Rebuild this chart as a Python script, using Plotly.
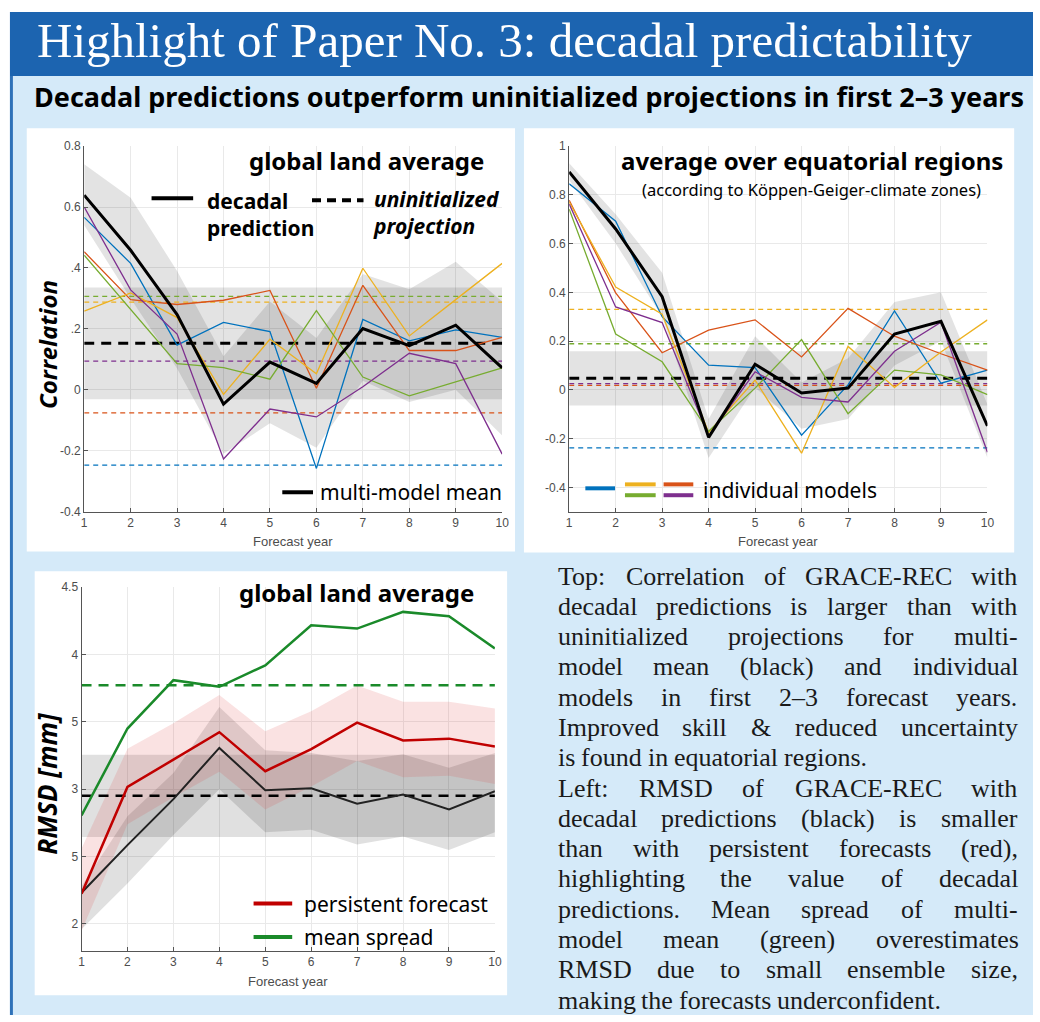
import plotly.graph_objects as go

# ---------------- data ----------------
years = list(range(1, 11))

# Panel 1: correlation, global land average
glob_mmm = [0.639, 0.458, 0.247, -0.047, 0.091, 0.021, 0.201, 0.145, 0.212, 0.072]
glob_mmm_hi = [0.74, 0.63, 0.39, 0.11, 0.29, 0.17, 0.38, 0.33, 0.42, 0.29]
glob_mmm_lo = [0.54, 0.30, 0.07, -0.21, -0.11, -0.19, 0.03, -0.04, 0.00, -0.15]
glob_blue = [0.566, 0.415, 0.147, 0.221, 0.191, -0.258, 0.231, 0.161, 0.197, 0.172]
glob_orange = [0.453, 0.296, 0.280, 0.294, 0.326, 0.005, 0.343, 0.129, 0.129, 0.172]
glob_yellow = [0.258, 0.318, 0.237, -0.015, 0.166, 0.053, 0.399, 0.177, 0.296, 0.415]
glob_green = [0.442, 0.264, 0.086, 0.073, 0.035, 0.260, 0.042, -0.020, 0.026, 0.072]
glob_purple = [0.600, 0.328, 0.183, -0.227, -0.063, -0.089, 0.010, 0.120, 0.086, -0.211]
glob_uninit_mmm = 0.153
glob_uninit_models = [-0.247, -0.076, 0.288, 0.307, 0.094]  # blue, orange, yellow, green, purple
glob_uninit_band = [-0.031, 0.336]

# Panel 2: correlation, equatorial regions
eq_mmm = [0.894, 0.660, 0.382, -0.195, 0.105, -0.013, 0.007, 0.229, 0.281, -0.148]
eq_mmm_hi = [0.93, 0.72, 0.48, -0.12, 0.22, 0.03, 0.13, 0.36, 0.40, -0.06]
eq_mmm_lo = [0.86, 0.60, 0.30, -0.28, 0.01, -0.16, -0.12, 0.10, 0.20, -0.28]
eq_blue = [0.845, 0.692, 0.300, 0.101, 0.091, -0.186, 0.020, 0.324, 0.027, 0.081]
eq_orange = [0.778, 0.398, 0.152, 0.245, 0.287, 0.135, 0.334, 0.220, 0.148, 0.081]
eq_yellow = [0.770, 0.422, 0.310, -0.175, 0.040, -0.260, 0.178, 0.010, 0.155, 0.287]
eq_green = [0.741, 0.229, 0.115, -0.170, 0.007, 0.206, -0.098, 0.081, 0.061, -0.020]
eq_purple = [0.762, 0.340, 0.276, -0.190, 0.074, -0.031, -0.050, 0.158, 0.277, -0.256]
eq_uninit_mmm = 0.047
eq_uninit_models = [-0.238, 0.018, 0.330, 0.189, 0.025]
eq_uninit_band = [-0.064, 0.158]

# Panel 3: RMSD, global land average
rmsd_dec = [2.232, 2.585, 2.927, 3.307, 2.993, 3.007, 2.893, 2.961, 2.851, 2.985]
rmsd_dec_hi = [2.28, 2.80, 3.12, 3.61, 3.29, 3.27, 3.21, 3.26, 3.16, 3.27]
rmsd_dec_lo = [1.96, 2.30, 2.66, 3.00, 2.68, 2.70, 2.59, 2.65, 2.55, 2.68]
rmsd_pers = [2.224, 3.017, 3.220, 3.424, 3.134, 3.298, 3.495, 3.363, 3.376, 3.317]
rmsd_pers_hi = [2.56, 3.30, 3.49, 3.70, 3.43, 3.58, 3.77, 3.65, 3.65, 3.60]
rmsd_pers_lo = [1.95, 2.74, 2.94, 3.13, 2.85, 3.02, 3.21, 3.09, 3.10, 3.04]
rmsd_spread = [2.805, 3.451, 3.810, 3.761, 3.920, 4.217, 4.193, 4.317, 4.285, 4.046]
rmsd_uninit = 2.951
rmsd_spread_uninit = 3.773
rmsd_uninit_band = [2.646, 3.256]

# tick labels (as printed in the figure)
glob_tickvals = [-0.4, -0.2, 0, 0.2, 0.4, 0.6, 0.8]
glob_ticktext = ["-0.4", "-0.2", "0", ".2", ".4", "0.6", "0.8"]
eq_tickvals = [-0.4, -0.2, 0, 0.2, 0.4, 0.6, 0.8, 1]
eq_ticktext = ["-0.4", "-0.2", "0", "0.2", "0.4", "0.6", "0.8", "1"]
rmsd_tickvals = [2, 2.5, 3, 3.5, 4, 4.5]
rmsd_ticktext = ["2", "5", "3", "5", "4", "4.5"]

text_lines = [
    ("Top: Correlation of GRACE-REC with", True),
    ("decadal predictions is larger than with", True),
    ("uninitialized projections for multi-", True),
    ("model mean (black) and individual", True),
    ("models in first 2\u20133 forecast years.", True),
    ("Improved skill & reduced uncertainty", True),
    ("is found in equatorial regions.", False),
    ("Left: RMSD of GRACE-REC with", True),
    ("decadal predictions (black) is smaller", True),
    ("than with persistent forecasts (red),", True),
    ("highlighting the value of decadal", True),
    ("predictions. Mean spread of multi-", True),
    ("model mean (green) overestimates", True),
    ("RMSD due to small ensemble size,", True),
    ("making the forecasts underconfident.", False),
]

# ---------------- style ----------------
W, H = 1040, 1022
C_BLUE, C_ORANGE, C_YELLOW, C_GREEN, C_PURPLE = "#0072BD", "#D95319", "#EDB120", "#77AC30", "#7E2F8E"
MODEL_COLORS = [C_BLUE, C_ORANGE, C_YELLOW, C_GREEN, C_PURPLE]
SANS = "Noto Sans"


def px(x):
    return x / W


def py(y):
    return 1 - y / H


fig = go.Figure()


def add_band(xs, hi, lo, color, ax):
    fig.add_trace(go.Scatter(x=list(xs) + list(xs)[::-1], y=list(hi) + list(lo)[::-1],
                             fill="toself", fillcolor=color, mode="lines", line=dict(width=0),
                             xaxis="x" + ax, yaxis="y" + ax, showlegend=False, hoverinfo="skip"))


def add_hband(lohi, color, ax):
    fig.add_trace(go.Scatter(x=[1, 10, 10, 1], y=[lohi[0], lohi[0], lohi[1], lohi[1]],
                             fill="toself", fillcolor=color, mode="lines", line=dict(width=0),
                             xaxis="x" + ax, yaxis="y" + ax, showlegend=False, hoverinfo="skip"))


def add_line(xs, ys, color, width, ax, dash="solid"):
    fig.add_trace(go.Scatter(x=xs, y=ys, mode="lines", line=dict(color=color, width=width, dash=dash),
                             xaxis="x" + ax, yaxis="y" + ax, showlegend=False, hoverinfo="skip"))


def add_hline(v, color, width, ax, dash):
    add_line([1, 10], [v, v], color, width, ax, dash)


GRAY = "rgba(0,0,0,0.11)"

# Panel 1
add_band(years, glob_mmm_hi, glob_mmm_lo, GRAY, "")
add_hband(glob_uninit_band, GRAY, "")
for v, c in zip(glob_uninit_models, MODEL_COLORS):
    add_hline(v, c, 1.3, "", "5px,4px")
add_hline(glob_uninit_mmm, "black", 3, "", "10px,7px")
for ys, c in zip([glob_blue, glob_orange, glob_yellow, glob_green, glob_purple], MODEL_COLORS):
    add_line(years, ys, c, 1.3, "")
add_line(years, glob_mmm, "black", 3, "")

# Panel 2
add_band(years, eq_mmm_hi, eq_mmm_lo, GRAY, "2")
add_hband(eq_uninit_band, GRAY, "2")
for v, c in zip(eq_uninit_models, MODEL_COLORS):
    add_hline(v, c, 1.3, "2", "5px,4px")
add_hline(eq_uninit_mmm, "black", 3, "2", "10px,7px")
for ys, c in zip([eq_blue, eq_orange, eq_yellow, eq_green, eq_purple], MODEL_COLORS):
    add_line(years, ys, c, 1.3, "2")
add_line(years, eq_mmm, "black", 3, "2")

# Panel 3
C_RED, C_DGREEN = "#C00000", "#1A8A2A"
add_hband(rmsd_uninit_band, "rgba(0,0,0,0.12)", "3")
add_band(years, rmsd_dec_hi, rmsd_dec_lo, "rgba(0,0,0,0.12)", "3")
add_band(years, rmsd_pers_hi, rmsd_pers_lo, "rgba(220,60,60,0.15)", "3")
add_hline(rmsd_uninit, "black", 2.5, "3", "10px,7px")
add_hline(rmsd_spread_uninit, C_DGREEN, 2.5, "3", "10px,7px")
add_line(years, rmsd_dec, "#222222", 2, "3")
add_line(years, rmsd_pers, C_RED, 2.5, "3")
add_line(years, rmsd_spread, C_DGREEN, 2.5, "3")

# ---------------- axes ----------------
axis_common = dict(showline=True, linecolor="#555555", linewidth=1, showgrid=True, gridcolor="#e9e9e9",
                   gridwidth=1, zeroline=False, ticks="inside", ticklen=4, tickcolor="#555555",
                   tickfont=dict(family="Liberation Sans", size=12, color="#4d4d4d"))
xcommon = dict(axis_common, range=[1, 10], tickvals=years, ticktext=[str(y) for y in years])

fig.update_layout(
    xaxis=dict(xcommon, domain=[px(82), px(504)], anchor="y"),
    yaxis=dict(axis_common, domain=[py(511.7), py(141)], anchor="x", range=[-0.4, 0.8],
               tickvals=glob_tickvals, ticktext=glob_ticktext),
    xaxis2=dict(xcommon, domain=[px(571.7), px(994)], anchor="y2"),
    yaxis2=dict(axis_common, domain=[py(511.7), py(141)], anchor="x2", range=[-0.5, 1.0],
                tickvals=eq_tickvals, ticktext=eq_ticktext),
    xaxis3=dict(xcommon, domain=[px(79.3), px(496.7)], anchor="y3"),
    yaxis3=dict(axis_common, domain=[py(957), py(588.3)], anchor="x3", range=[1.8, 4.5],
                tickvals=rmsd_tickvals, ticktext=rmsd_ticktext),
)

# ---------------- background shapes ----------------
shapes = []


def rect(x0, y0, x1, y1, fill, layer="below", line_w=0, line_c=None):
    shapes.append(dict(type="rect", xref="paper", yref="paper", x0=px(x0), x1=px(x1), y0=py(y1), y1=py(y0),
                       fillcolor=fill, line=dict(width=line_w, color=line_c or fill), layer=layer))


def seg(x0, y0, x1, y1, color, width, dash="solid"):
    shapes.append(dict(type="line", xref="paper", yref="paper", x0=px(x0), x1=px(x1), y0=py(y0), y1=py(y1),
                       line=dict(color=color, width=width, dash=dash), layer="above"))


rect(7, 5, 1040, 70, "#1C64B0")
rect(7, 70, 1040, 1022, "#D5EAF9")
rect(7, 70, 10, 1022, "#2F72B8")
rect(24, 123, 517, 552, "white")
rect(526, 123, 1021, 553, "white")
rect(32, 572, 509, 1002, "white")

# legend keys
seg(150, 194, 192, 194, "black", 4)
seg(312, 196, 364, 196, "black", 4, "9px,6px")
seg(282, 492, 313, 492, "black", 4)
seg(588, 488, 618, 488, C_BLUE, 4)
seg(628, 484, 659, 484, C_YELLOW, 4)
seg(628, 495, 659, 495, C_GREEN, 4)
seg(667, 484, 697, 484, C_ORANGE, 4)
seg(667, 495, 697, 495, C_PURPLE, 4)
seg(253, 909, 292, 909, C_RED, 4)
seg(253, 943, 292, 943, C_DGREEN, 4)

# ---------------- text ----------------
ann = []


def text(x, y, s, size, color="black", family=SANS, xanchor="left", angle=0, align="left"):
    ann.append(dict(x=px(x), y=py(y), xref="paper", yref="paper", text=s, showarrow=False,
                    xanchor=xanchor, yanchor="middle", textangle=angle, align=align,
                    font=dict(family=family, size=size, color=color)))


text(32, 34, "Highlight of Paper No. 3: decadal predictability", 49, "white", "Liberation Serif")
text(29, 91, "<b>Decadal predictions outperform uninitialized projections in first 2\u20133 years</b>", 27,
     "black", SANS)

# panel 1
text(367, 156, "<b>global land average</b>", 24, xanchor="center")
text(204, 210, "<b>decadal<br>prediction</b>", 21)
text(372, 208, "<b><i>uninitialized<br>projection</i></b>", 21)
text(318, 492, "multi-model mean", 21)
text(45, 342, "<b><i>Correlation</i></b>", 24, xanchor="center", angle=-90)
text(293, 542, "Forecast year", 13, "#4d4d4d", "Liberation Sans", xanchor="center")

# panel 2
text(817, 156, "<b>average over equatorial regions</b>", 24, xanchor="center")
text(816, 185, "(according to K\u00f6ppen-Geiger-climate zones)", 16.5, xanchor="center")
text(705, 490, "individual models", 21)
text(783, 542, "Forecast year", 13, "#4d4d4d", "Liberation Sans", xanchor="center")

# panel 3
text(357, 594, "<b>global land average</b>", 24, xanchor="center")
text(302, 909, "persistent forecast", 21)
text(302, 943, "mean spread", 21)
text(45, 787, "<b><i>RMSD [mm]</i></b>", 26, xanchor="center", angle=-90)
text(288, 988, "Forecast year", 13, "#4d4d4d", "Liberation Sans", xanchor="center")

# justified explanatory text (Times metrics for Liberation Serif)
TIMES = {' ': 250, '!': 333, '(': 333, ')': 333, ',': 250, '-': 333, '.': 250, ':': 278, '&': 778,
         '\u2013': 500, 'A': 722, 'B': 667, 'C': 667, 'D': 722, 'E': 611, 'F': 556, 'G': 722, 'H': 722,
         'I': 333, 'J': 389, 'K': 722, 'L': 611, 'M': 889, 'N': 722, 'O': 722, 'P': 556, 'Q': 722,
         'R': 667, 'S': 556, 'T': 611, 'U': 722, 'V': 722, 'W': 944, 'X': 722, 'Y': 722, 'Z': 611,
         'a': 444, 'b': 500, 'c': 444, 'd': 500, 'e': 444, 'f': 333, 'g': 500, 'h': 500, 'i': 278,
         'j': 278, 'k': 500, 'l': 278, 'm': 778, 'n': 500, 'o': 500, 'p': 500, 'q': 500, 'r': 333,
         's': 389, 't': 278, 'u': 500, 'v': 500, 'w': 722, 'x': 500, 'y': 500, 'z': 444}
TSIZE = 26


def tw(s):
    return sum(TIMES.get(c, 500) for c in s) * TSIZE / 1000


L, R, Y0, DY = 559, 1023, 577, 30.7
for i, (line, just) in enumerate(text_lines):
    words = line.split(" ")
    widths = [tw(w) for w in words]
    if just and len(words) > 1:
        gap = (R - L - sum(widths)) / (len(words) - 1)
    else:
        gap = tw(" ")
    x = L
    for w, wd in zip(words, widths):
        text(x - 1, Y0 + i * DY, w, TSIZE, "#1a1a1a", "Liberation Serif")
        x += wd + gap

fig.update_layout(
    width=W, height=H, autosize=False,
    margin=dict(l=0, r=0, t=0, b=0),
    paper_bgcolor="white", plot_bgcolor="rgba(0,0,0,0)",
    font=dict(family=SANS),
    shapes=shapes, annotations=ann, showlegend=False,
)

fig.write_html("out.html", config={"displayModeBar": False})
